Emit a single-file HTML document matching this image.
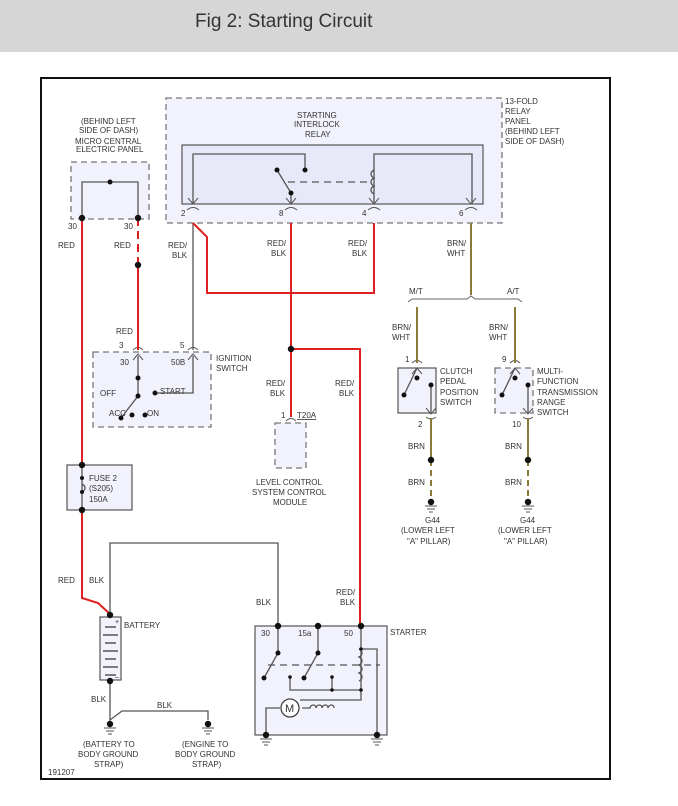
<!DOCTYPE html>
<html><head><meta charset="utf-8"><style>
body{margin:0;width:678px;height:806px;background:#fff;overflow:hidden;font-family:"Liberation Sans",sans-serif}
.t{position:absolute;left:0;top:0;width:678px;height:52px;background:#d6d6d6}
.t span{position:absolute;left:195px;top:11px;font-size:19px;color:#333}
svg{position:absolute;left:0;top:0}
text{font-family:"Liberation Sans",sans-serif;font-size:8px;fill:#333}
</style></head><body>
<div class="t"><span>Fig 2: Starting Circuit</span></div>
<svg width="678" height="806" viewBox="0 0 678 806">
<rect x="41" y="78" width="569" height="701" fill="none" stroke="#111" stroke-width="2"/>
<g fill="#f1f2fc" stroke="#777" stroke-dasharray="6,4" stroke-width="1.3">
<rect x="166" y="98" width="336" height="125"/>
<rect x="71" y="162" width="78" height="57"/>
<rect x="93" y="352" width="118" height="75"/>
<rect x="275" y="423" width="31" height="45"/>
<rect x="495" y="368" width="38" height="45"/>
</g>
<g fill="#f1f2fc" stroke="#555" stroke-width="1.2">
<rect x="182" y="145" width="301" height="59" fill="#e8e9f8"/>
<rect x="398" y="368" width="38" height="45"/>
<rect x="67" y="465" width="65" height="45"/>
<rect x="100" y="617" width="21" height="63"/>
<rect x="255" y="626" width="132" height="109"/>
</g>
<g fill="none" stroke="#555" stroke-width="1.3">
<path d="M82 218V182H138V218"/>
<path d="M193 204V154H305V170M277 170L291 193V204M374 204V154H472V204"/>
<path d="M374 170c-4 2 -4 6 0 8c-4 2 -4 6 0 8c-4 2 -4 6 0 8"/>
<path d="M138 356V396L121 418M193 356V393H155"/>
<path d="M193 223V350"/>
<path d="M110 617V543H278V626"/>
<path d="M110 680V720L122 711H208V720"/>
<path d="M278 626V653L264 678M318 626V653L304 678M290 677V690H361M332 677V690M361 626V700H300M280 708H266V734M361 649H377V734"/>
<path d="M359 649c4 2 4 6 0 8c4 2 4 6 0 8c4 2 4 6 0 8c4 2 4 6 0 8" />
<path d="M302 708h8c1-4 6-4 6 0c1-4 6-4 6 0c1-4 6-4 6 0c1-4 6-4 6 0"/>
<path d="M417 368L404 395M515 368L502 395M431 385V413M528 385V413"/>
<path d="M82 465V510M82 478v6c4 2 4 6 0 8"/>
</g>
<!-- connector symbols -->
<g fill="none" stroke="#555" stroke-width="1">
<path d="M188 198l5 6l5-6M286 198l5 6l5-6M369 198l5 6l5-6M466 198l5 6l5-6"/>
<path d="M187 210q6-5 12 0M285 210q6-5 12 0M368 210q6-5 12 0M465 210q6-5 12 0"/>
<path d="M133 350q5-5 10 0M188 350q5-5 10 0M286 421q5-5 10 0M412 363q5-5 10 0M510 363q5-5 10 0"/>
<path d="M133 360l5-6l5 6M188 360l5-6l5 6M412 374l5-6l5 6M510 374l5-6l5 6"/>
<path d="M426 408l5 6l5-6M523 408l5 6l5-6M426 417q5 4 10 0M523 417q5 4 10 0"/>
</g>
<circle cx="290" cy="708" r="9" fill="#fff" stroke="#444" stroke-width="1.3"/>
<text x="285" y="712" style="font-size:11px">M</text>
<g stroke="#555" stroke-dasharray="7,5" stroke-width="1.3"><path d="M288 182H372M268 665H380"/></g>
<g fill="none" stroke="#e02020" stroke-width="2">
<path d="M82 218V465M82 510V598L98 603L110 614"/>
<path d="M138 218V265" stroke-dasharray="8,5"/>
<path d="M138 265V350"/>
<path d="M193 223L207 237V293H374V223"/>
<path d="M291 223V417M291 349H360V626"/>
</g>
<g fill="none" stroke="#8b7a3a" stroke-width="2">
<path d="M471 223V295M417 307V363M515 307V363M431 418V460M528 418V460"/>
<path d="M431 460V500M528 460V500" stroke-dasharray="6,4"/>
</g>
<path d="M408 302L412 299H467L471 296L475 299H518L522 302" fill="none" stroke="#666"/>
<g fill="#111">
<circle cx="110" cy="182" r="2.5"/><circle cx="82" cy="218" r="3.2"/><circle cx="138" cy="218" r="3.2"/>
<circle cx="138" cy="265" r="3.2"/><circle cx="291" cy="349" r="3.2"/>
<circle cx="305" cy="170" r="2.5"/><circle cx="277" cy="170" r="2.5"/><circle cx="291" cy="193" r="2.5"/>
<circle cx="138" cy="378" r="2.5"/><circle cx="138" cy="396" r="2.5"/><circle cx="121" cy="418" r="2.5"/>
<circle cx="132" cy="415" r="2.5"/><circle cx="145" cy="415" r="2.5"/><circle cx="155" cy="393" r="2.5"/>
<circle cx="82" cy="465" r="3.2"/><circle cx="82" cy="510" r="3.2"/><circle cx="82" cy="478" r="2"/><circle cx="82" cy="492" r="2"/>
<circle cx="110" cy="615" r="3.2"/><circle cx="110" cy="681" r="3.2"/>
<circle cx="278" cy="626" r="3.2"/><circle cx="318" cy="626" r="3.2"/><circle cx="361" cy="626" r="3.2"/>
<circle cx="278" cy="653" r="2.5"/><circle cx="264" cy="678" r="2.5"/><circle cx="318" cy="653" r="2.5"/><circle cx="304" cy="678" r="2.5"/>
<circle cx="290" cy="677" r="1.8"/><circle cx="332" cy="677" r="1.8"/><circle cx="332" cy="690" r="1.8"/><circle cx="361" cy="690" r="1.8"/><circle cx="361" cy="649" r="1.8"/>
<circle cx="417" cy="378" r="2.5"/><circle cx="404" cy="395" r="2.5"/><circle cx="431" cy="385" r="2.5"/>
<circle cx="515" cy="378" r="2.5"/><circle cx="502" cy="395" r="2.5"/><circle cx="528" cy="385" r="2.5"/>
<circle cx="431" cy="460" r="3.2"/><circle cx="528" cy="460" r="3.2"/>
<circle cx="431" cy="502" r="3.2"/><circle cx="528" cy="502" r="3.2"/>
<circle cx="110" cy="724" r="3.2"/><circle cx="208" cy="724" r="3.2"/>
<circle cx="266" cy="735" r="3.2"/><circle cx="377" cy="735" r="3.2"/>
</g>
<g stroke="#555" stroke-width="1">
<path d="M104 728h12M106 731h8M108 734h4M202 728h12M204 731h8M206 734h4M260 739h12M262 742h8M264 745h4M371 739h12M373 742h8M375 745h4M425 506h12M427 509h8M429 512h4M522 506h12M524 509h8M526 512h4"/>
<path d="M105 627h11M103 635h15M105 643h11M103 651h15M105 659h11M103 667h15M105 675h11" stroke-width="1.5"/>
</g>
<g>
<text x="81" y="124">(BEHIND LEFT</text><text x="79" y="133">SIDE OF DASH)</text>
<text x="75" y="144">MICRO CENTRAL</text><text x="76" y="152">ELECTRIC PANEL</text>
<text x="68" y="229">30</text><text x="124" y="229">30</text>
<text x="58" y="248">RED</text><text x="114" y="248">RED</text>
<text x="168" y="248">RED/</text><text x="172" y="258">BLK</text>
<text x="297" y="118">STARTING</text><text x="294" y="127">INTERLOCK</text><text x="305" y="137">RELAY</text>
<text x="505" y="104">13-FOLD</text><text x="505" y="114">RELAY</text><text x="505" y="124">PANEL</text><text x="505" y="134">(BEHIND LEFT</text><text x="505" y="144">SIDE OF DASH)</text>
<text x="181" y="216">2</text><text x="279" y="216">8</text><text x="362" y="216">4</text><text x="459" y="216">6</text>
<text x="267" y="246">RED/</text><text x="271" y="256">BLK</text>
<text x="348" y="246">RED/</text><text x="352" y="256">BLK</text>
<text x="447" y="246">BRN/</text><text x="447" y="256">WHT</text>
<text x="409" y="294">M/T</text><text x="507" y="294">A/T</text>
<text x="392" y="330">BRN/</text><text x="392" y="340">WHT</text>
<text x="489" y="330">BRN/</text><text x="489" y="340">WHT</text>
<text x="116" y="334">RED</text><text x="119" y="348">3</text><text x="180" y="348">5</text>
<text x="120" y="365">30</text><text x="171" y="365">50B</text>
<text x="216" y="361">IGNITION</text><text x="216" y="371">SWITCH</text>
<text x="100" y="396">OFF</text><text x="160" y="394">START</text>
<text x="109" y="416">ACC</text><text x="147" y="416">ON</text>
<text x="266" y="386">RED/</text><text x="270" y="396">BLK</text>
<text x="335" y="386">RED/</text><text x="339" y="396">BLK</text>
<text x="281" y="418">1</text><text x="297" y="418" text-decoration="underline">T20A</text>
<text x="256" y="485">LEVEL CONTROL</text><text x="252" y="495">SYSTEM CONTROL</text><text x="273" y="505">MODULE</text>
<text x="405" y="362">1</text><text x="502" y="362">9</text>
<text x="440" y="374">CLUTCH</text><text x="440" y="384">PEDAL</text><text x="440" y="395">POSITION</text><text x="440" y="405">SWITCH</text>
<text x="537" y="374">MULTI-</text><text x="537" y="384">FUNCTION</text><text x="537" y="395">TRANSMISSION</text><text x="537" y="405">RANGE</text><text x="537" y="415">SWITCH</text>
<text x="418" y="427">2</text><text x="512" y="427">10</text>
<text x="408" y="449">BRN</text><text x="505" y="449">BRN</text>
<text x="408" y="485">BRN</text><text x="505" y="485">BRN</text>
<text x="425" y="523">G44</text><text x="401" y="533">(LOWER LEFT</text><text x="407" y="544">"A" PILLAR)</text>
<text x="520" y="523">G44</text><text x="498" y="533">(LOWER LEFT</text><text x="504" y="544">"A" PILLAR)</text>
<text x="89" y="481">FUSE 2</text><text x="89" y="491">(S205)</text><text x="89" y="502">150A</text>
<text x="58" y="583">RED</text><text x="89" y="583">BLK</text>
<text x="124" y="628">BATTERY</text>
<text x="115" y="624" style="font-size:7px">+</text><text x="115" y="679" style="font-size:7px">–</text>
<text x="91" y="702">BLK</text><text x="157" y="708">BLK</text>
<text x="256" y="605">BLK</text>
<text x="336" y="595">RED/</text><text x="340" y="605">BLK</text>
<text x="261" y="636">30</text><text x="298" y="636">15a</text><text x="344" y="636">50</text>
<text x="390" y="635">STARTER</text>
<text x="83" y="747">(BATTERY TO</text><text x="78" y="757">BODY GROUND</text><text x="94" y="767">STRAP)</text>
<text x="182" y="747">(ENGINE TO</text><text x="175" y="757">BODY GROUND</text><text x="192" y="767">STRAP)</text>
<text x="48" y="775">191207</text>
</g>
</svg>
</body></html>
